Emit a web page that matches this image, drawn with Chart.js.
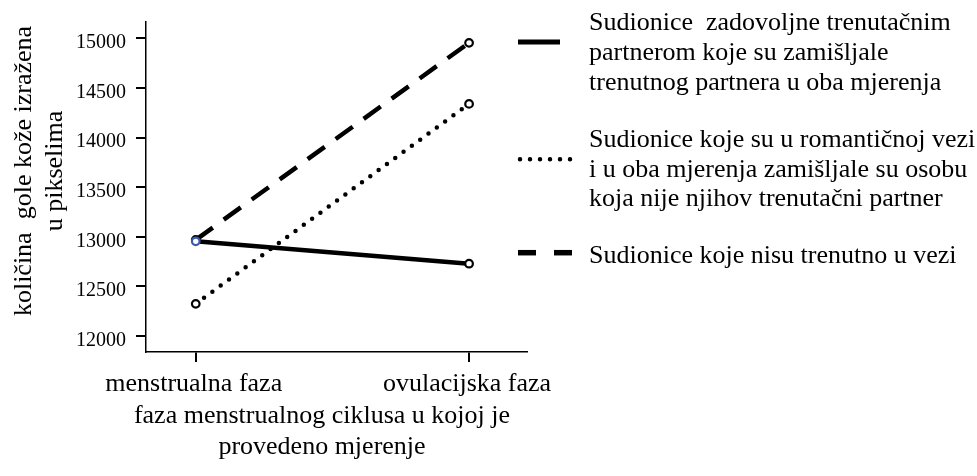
<!DOCTYPE html>
<html>
<head>
<meta charset="utf-8">
<script src="https://cdn.jsdelivr.net/npm/chart.js@4.4.1/dist/chart.umd.min.js"></script>
<style>
  html, body { margin: 0; padding: 0; background: #fff; }
  canvas { display: block; }
</style>
</head>
<body>
<canvas id="chart" width="977" height="476"></canvas>
<script>
// categories on the x axis
const categories = ["menstrualna faza", "ovulacijska faza"]

// mean values per group
const zadovoljne = [12955, 12730]
const drugaOsoba = [12325, 14340]
const bezVeze = [12970, 14955]

const yTicks = [12000, 12500, 13000, 13500, 14000, 14500, 15000]

// legend text, one array of lines per series
const labelZadovoljne = ["Sudionice  zadovoljne trenutačnim", "partnerom koje su zamišljale", "trenutnog partnera u oba mjerenja"]
const labelDrugaOsoba = ["Sudionice koje su u romantičnoj vezi", "i u oba mjerenja zamišljale su osobu", "koja nije njihov trenutačni partner"]
const labelBezVeze = ["Sudionice koje nisu trenutno u vezi"]

const yTitle = ["količina  gole kože izražena", "u pikselima"]
const xTitle = ["faza menstrualnog ciklusa u kojoj je", "provedeno mjerenje"]

const FONT = "'Liberation Serif', 'Times New Roman', serif"

const toPoints = (values) => values.map((v, i) => ({ x: i, y: v }))

// draws the side legend and both axis titles
const annotations = {
  id: "annotations",
  afterDraw(chart) {
    const ctx = chart.ctx
    ctx.save()
    ctx.fillStyle = "#000"
    ctx.strokeStyle = "#000"
    ctx.font = "26px " + FONT

    // legend samples
    const samples = [
      { y: 42, x0: 518, x1: 560, width: 5, dash: [], cap: "butt" },
      { y: 159.3, x0: 520, x1: 571, width: 4.5, dash: [0, 10], cap: "round" },
      { y: 252.7, x0: 518, x1: 574, width: 5.5, dash: [18, 18], cap: "butt" }
    ]
    samples.forEach((s) => {
      ctx.beginPath()
      ctx.lineWidth = s.width
      ctx.lineCap = s.cap
      ctx.setLineDash(s.dash)
      ctx.moveTo(s.x0, s.y)
      ctx.lineTo(s.x1, s.y)
      ctx.stroke()
    })
    ctx.setLineDash([])

    // legend text
    ctx.textAlign = "left"
    ctx.textBaseline = "alphabetic"
    const blocks = [
      { lines: labelZadovoljne, y: 30 },
      { lines: labelDrugaOsoba, y: 146.6 },
      { lines: labelBezVeze, y: 263.3 }
    ]
    blocks.forEach((b) => {
      b.lines.forEach((line, i) => ctx.fillText(line, 589, b.y + i * 29.9))
    })

    // y axis title (rotated)
    ctx.textAlign = "center"
    yTitle.forEach((line, i) => {
      ctx.save()
      ctx.translate(31 + i * 31, 171)
      ctx.rotate(-Math.PI / 2)
      ctx.fillText(line, 0, 0)
      ctx.restore()
    })

    // x axis title
    xTitle.forEach((line, i) => ctx.fillText(line, 322, 423 + i * 31))

    ctx.restore()
  }
}

const pointStyle = {
  pointBackgroundColor: "#fff",
  pointRadius: 3.8,
  pointBorderWidth: 2.2
}

new Chart(document.getElementById("chart"), {
  type: "line",
  data: {
    datasets: [
      {
        label: labelZadovoljne.join(" "),
        data: toPoints(zadovoljne),
        borderColor: "#000",
        borderWidth: 4.5,
        pointBorderColor: ["#3c5aa8", "#000"],
        ...pointStyle
      },
      {
        label: labelDrugaOsoba.join(" "),
        data: toPoints(drugaOsoba),
        borderColor: "#000",
        borderWidth: 4.5,
        borderDash: [0, 10.3],
        borderCapStyle: "round",
        pointBorderColor: "#000",
        ...pointStyle
      },
      {
        label: labelBezVeze.join(" "),
        data: toPoints(bezVeze),
        borderColor: "#000",
        borderWidth: 4.5,
        borderDash: [21, 13.5],
        pointBorderColor: "#000",
        ...pointStyle
      }
    ]
  },
  options: {
    responsive: false,
    animation: false,
    events: [],
    layout: { padding: { left: 0, top: 19, right: 450, bottom: 0 } },
    elements: { line: { tension: 0 } },
    plugins: {
      legend: { display: false },
      tooltip: { enabled: false }
    },
    scales: {
      x: {
        type: "linear",
        min: -0.182,
        max: 1.212,
        afterBuildTicks: (scale) => {
          scale.ticks = categories.map((c, i) => ({ value: i }))
        },
        afterFit: (scale) => { scale.height = 124 },
        ticks: {
          callback: (value) => categories[value],
          color: "#000",
          font: { family: FONT, size: 26 },
          padding: 7,
          maxRotation: 0,
          autoSkip: false,
          labelOffset: -2
        },
        grid: {
          display: true,
          drawOnChartArea: false,
          drawTicks: true,
          tickLength: 10,
          tickWidth: 2,
          tickColor: "#000",
          color: "#000",
          lineWidth: 2
        },
        border: { display: true, color: "#000", width: 1.5 }
      },
      y: {
        min: 11840,
        max: 15165,
        afterBuildTicks: (scale) => {
          scale.ticks = yTicks.map((v) => ({ value: v }))
        },
        afterFit: (scale) => { scale.width = 146 },
        ticks: {
          callback: (value) => String(value),
          color: "#000",
          font: { family: FONT, size: 20 },
          padding: 10,
          labelOffset: 4.5
        },
        grid: {
          display: true,
          drawOnChartArea: false,
          drawTicks: true,
          tickLength: 10,
          tickWidth: 2,
          tickColor: "#000",
          color: "#000",
          lineWidth: 2
        },
        border: { display: true, color: "#000", width: 1.5 }
      }
    }
  },
  plugins: [annotations]
})
</script>
</body>
</html>
